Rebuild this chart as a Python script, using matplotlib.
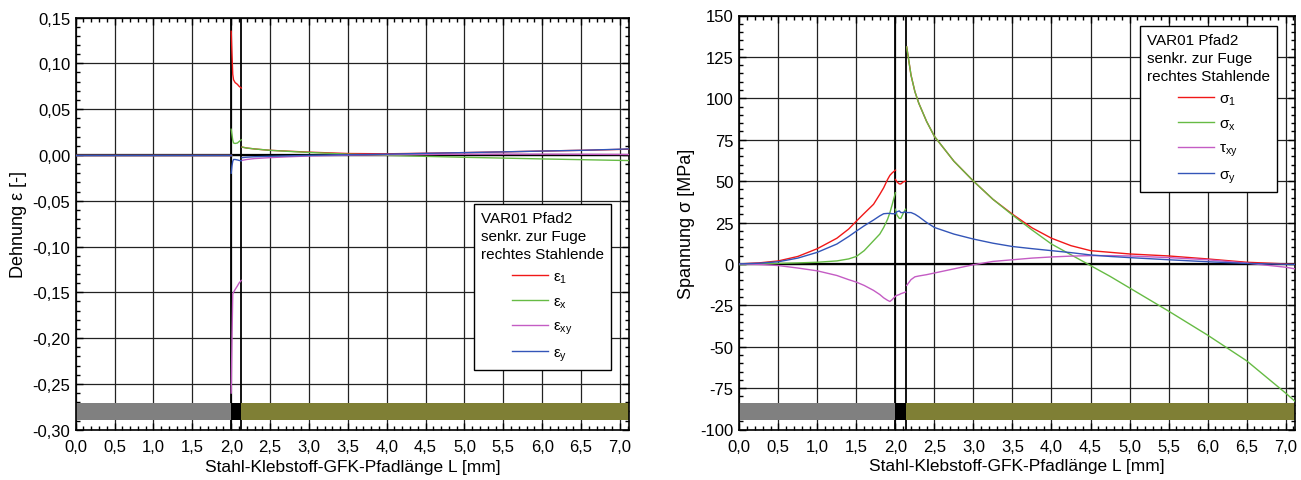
import numpy as np
import matplotlib
matplotlib.use("Agg")
import matplotlib.pyplot as plt
from matplotlib.ticker import MultipleLocator, FuncFormatter
from matplotlib.legend_handler import HandlerLine2D
from matplotlib.lines import Line2D

plt.rcParams['font.family'] = ['Liberation Sans', 'DejaVu Sans']
plt.rcParams['mathtext.fontset'] = 'custom'
plt.rcParams['mathtext.rm'] = 'Liberation Sans'

# Schichtgrenzen Stahl / Klebstoff / GFK [mm]
INTERFACES = [2.0, 2.13]
X_END = 7.12

# ---- Dehnungen (links) ----
EPS_STEEL_X = [0.0, 1.0, 2.0]
EPS1_STEEL = [0.0, 0.0, 0.0]
EPSX_STEEL = [0.0, 0.0, 0.0]
EPSXY_STEEL = [0.0, 0.0, 0.0]
EPSY_STEEL = [0.0, 0.0, 0.0]

EPS_ADH_X = [2.0, 2.01, 2.02, 2.03, 2.05, 2.08, 2.10, 2.13]
EPS1_ADH = [0.135, 0.11, 0.088, 0.082, 0.079, 0.077, 0.075, 0.073]
EPSX_ADH = [0.028, 0.022, 0.016, 0.013, 0.0125, 0.013, 0.0145, 0.0165]
EPSXY_ADH = [-0.26, -0.20, -0.152, -0.150, -0.147, -0.143, -0.140, -0.137]
EPSY_ADH = [-0.02, -0.012, -0.007, -0.005, -0.005, -0.0055, -0.006, -0.0065]

EPS_GFK_X = [2.14, 2.2, 2.3, 2.5, 2.75, 3.0, 3.5, 4.0, 4.5, 5.0, 5.5, 6.0, 6.5, 7.0, 7.12]
EPS1_GFK = [0.0085, 0.0075, 0.0065, 0.005, 0.004, 0.003, 0.0015, 0.0012, 0.0018,
            0.0025, 0.0033, 0.0042, 0.005, 0.006, 0.0063]
EPSX_GFK = [0.0085, 0.0075, 0.0065, 0.005, 0.0038, 0.0027, 0.0008, -0.0005, -0.0016,
            -0.0026, -0.0035, -0.0044, -0.0052, -0.006, -0.0062]
EPSXY_GFK = [-0.006, -0.005, -0.004, -0.003, -0.002, -0.0012, -0.0003, 0.0002, 0.0005,
             0.0007, 0.0008, 0.0008, 0.0007, 0.0005, 0.0004]
EPSY_GFK = [-0.003, -0.0025, -0.002, -0.0015, -0.001, -0.0005, 0.0002, 0.0008, 0.0017,
            0.0025, 0.0033, 0.0042, 0.005, 0.0062, 0.0066]

# ---- Spannungen (rechts) [MPa] ----
SIG_STEEL_X = [0.0, 0.25, 0.5, 0.75, 1.0, 1.25, 1.4, 1.5, 1.6, 1.72, 1.8, 1.85, 1.9, 1.93, 1.96, 2.0]
SIG1_STEEL = [0.0, 0.6, 1.8, 4.5, 9.2, 15.5, 21, 25.8, 30.5, 36, 42, 46, 51, 53.5, 55, 56.6]
SIGX_STEEL = [-0.5, 0.0, 0.3, 0.6, 1.0, 1.8, 3.0, 4.5, 8.0, 14, 18, 22, 27, 31, 36, 43]
TAUXY_STEEL = [0.0, -0.3, -1.0, -2.5, -4.2, -7.0, -9.5, -11, -13, -16, -18.5, -20.5, -22, -22.7, -21.5, -19.5]
SIGY_STEEL = [0.0, 0.4, 1.3, 3.5, 7.0, 12, 16.5, 19.8, 23, 26.5, 29, 30.3, 30.5, 30.5, 30.3, 30.3]

SIG_ADH_X = [2.0, 2.02, 2.05, 2.07, 2.1, 2.13]
SIG1_ADH = [51, 49.5, 48.3, 48.3, 49.5, 50]
SIGX_ADH = [33, 29.5, 27.5, 27.5, 30.5, 33]
TAUXY_ADH = [-19.5, -19, -18.5, -18, -17.5, -17]
SIGY_ADH = [30.5, 31.5, 32, 31, 31, 31.5]

SIG_GFK_X = [2.145, 2.2, 2.25, 2.3, 2.4, 2.5, 2.75, 3.0, 3.25, 3.5, 3.75, 4.0, 4.25,
             4.5, 4.75, 5.0, 5.5, 6.0, 6.5, 7.0, 7.12]
SIG1_GFK = [131, 114, 104, 97, 86, 77, 62, 50, 39, 30, 21.8, 15.5, 11, 8, 7, 6,
            4.8, 3, 1, 0, -0.3]
SIGX_GFK = [131, 114, 104, 97, 86, 77, 62, 50, 39, 29.5, 20.5, 12, 5.5, -1, -7.5, -14.5,
            -28.5, -43, -58.5, -78, -83]
TAUXY_GFK = [-13, -9.5, -7.8, -7.3, -6.5, -5.5, -3, -0.5, 1.5, 2.5, 3.5, 4.2, 4.7,
             5, 5, 4.8, 3.8, 2.5, 0.5, -2, -3]
SIGY_GFK = [31, 31, 30, 28.5, 25, 22, 18, 15, 12.5, 10.5, 9.2, 8, 6.8, 5.4, 4.5,
            3.8, 2.5, 1.3, 0.3, -0.2, -0.3]

C_RED = '#f01818'
C_GREEN = '#66bb44'
C_PINK = '#c45cc4'
C_BLUE = '#3355b8'
LAYER_COLORS = ['#808080', '#000000', '#7f7f35']

LEG_TITLE = 'VAR01 Pfad2\nsenkr. zur Fuge\nrechtes Stahlende'


class ShiftedLine(HandlerLine2D):
    # Legendenlinie nach rechts versetzt, wie im Original
    def create_artists(self, legend, orig_handle, xdescent, ydescent,
                       width, height, fontsize, trans):
        shift = width * 0.46
        return super().create_artists(legend, orig_handle, xdescent - shift, ydescent,
                                      width - shift, height, fontsize, trans)


def comma_fmt(decimals):
    return FuncFormatter(lambda v, p: f"{v:.{decimals}f}".replace('.', ','))


def style_axes(ax, ylim, ymajor, yminor, ydec):
    ax.set_xlim(0, X_END)
    ax.set_ylim(*ylim)
    ax.xaxis.set_major_locator(MultipleLocator(0.5))
    ax.xaxis.set_minor_locator(MultipleLocator(0.1))
    ax.yaxis.set_major_locator(MultipleLocator(ymajor))
    ax.yaxis.set_minor_locator(MultipleLocator(yminor))
    ax.xaxis.set_major_formatter(comma_fmt(1))
    ax.yaxis.set_major_formatter(comma_fmt(ydec))
    ax.tick_params(which='both', direction='in', top=True, right=True,
                   labelsize=12, width=1)
    ax.tick_params(axis='x', pad=7)
    ax.tick_params(axis='y', pad=4)
    ax.tick_params(which='major', length=5)
    ax.tick_params(which='minor', length=3)
    ax.set_axisbelow(True)
    ax.grid(True, which='major', color='#222222', lw=0.9)
    for s in ax.spines.values():
        s.set_linewidth(1.2)
    ax.set_xlabel('Stahl-Klebstoff-GFK-Pfadlänge L [mm]', fontsize=12.5, labelpad=3)


def draw_layers(ax, y0, h):
    edges = [0.0] + INTERFACES + [X_END]
    spans = [(edges[i], edges[i + 1] - edges[i]) for i in range(len(edges) - 1)]
    ax.broken_barh(spans, (y0, h), facecolors=LAYER_COLORS, zorder=2)
    for xi in INTERFACES:
        ax.axvline(xi, color='black', lw=1.3, zorder=1.5)
    ax.axhline(0, color='black', lw=1.6, zorder=1.5)


def plot_series(ax, segments, color, label):
    for i, (xs, ys) in enumerate(segments):
        ax.plot(xs, ys, color=color, lw=1.0, zorder=3,
                label=label if i == 0 else None)


fig = plt.figure(figsize=(13.01, 4.81), dpi=100)
ax1 = fig.add_axes([75.7 / 1301, 1 - 430.7 / 481, (629.3 - 75.7) / 1301, (430.7 - 18.5) / 481])
ax2 = fig.add_axes([739.3 / 1301, 1 - 430.5 / 481, (1295 - 739.3) / 1301, (430.5 - 16.5) / 481])

# links: Dehnungen
style_axes(ax1, (-0.30, 0.15), 0.05, 0.01, 2)
draw_layers(ax1, -0.289, 0.018)
plot_series(ax1, [(EPS_STEEL_X, EPS1_STEEL), (EPS_ADH_X, EPS1_ADH), (EPS_GFK_X, EPS1_GFK)],
            C_RED, r'$\mathregular{ε_{1}}$')
plot_series(ax1, [(EPS_STEEL_X, EPSX_STEEL), (EPS_ADH_X, EPSX_ADH), (EPS_GFK_X, EPSX_GFK)],
            C_GREEN, r'$\mathregular{ε_{x}}$')
plot_series(ax1, [(EPS_STEEL_X, EPSXY_STEEL), (EPS_ADH_X, EPSXY_ADH), (EPS_GFK_X, EPSXY_GFK)],
            C_PINK, r'$\mathregular{ε_{xy}}$')
plot_series(ax1, [(EPS_STEEL_X, EPSY_STEEL), (EPS_ADH_X, EPSY_ADH), (EPS_GFK_X, EPSY_GFK)],
            C_BLUE, r'$\mathregular{ε_{y}}$')
ax1.set_ylabel('Dehnung ε [-]', fontsize=13, labelpad=4)

# rechts: Spannungen
style_axes(ax2, (-100, 150), 25, 5, 0)
draw_layers(ax2, -94, 10)
plot_series(ax2, [(SIG_STEEL_X, SIG1_STEEL), (SIG_ADH_X, SIG1_ADH), (SIG_GFK_X, SIG1_GFK)],
            C_RED, r'$\mathregular{σ_{1}}$')
plot_series(ax2, [(SIG_STEEL_X, SIGX_STEEL), (SIG_ADH_X, SIGX_ADH), (SIG_GFK_X, SIGX_GFK)],
            C_GREEN, r'$\mathregular{σ_{x}}$')
plot_series(ax2, [(SIG_STEEL_X, TAUXY_STEEL), (SIG_ADH_X, TAUXY_ADH), (SIG_GFK_X, TAUXY_GFK)],
            C_PINK, r'$\mathregular{τ_{xy}}$')
plot_series(ax2, [(SIG_STEEL_X, SIGY_STEEL), (SIG_ADH_X, SIGY_ADH), (SIG_GFK_X, SIGY_GFK)],
            C_BLUE, r'$\mathregular{σ_{y}}$')
ax2.set_ylabel('Spannung σ [MPa]', fontsize=13, labelpad=4)

for ax, anchor in [(ax1, (474 / 1301, 1 - 205 / 481)), (ax2, (1140 / 1301, 1 - 27 / 481))]:
    leg = ax.legend(title=LEG_TITLE, loc='upper left', bbox_to_anchor=anchor,
                    bbox_transform=fig.transFigure, borderaxespad=0,
                    fontsize=11, title_fontsize=11,
                    alignment='left', fancybox=False, framealpha=1, edgecolor='black',
                    handlelength=4.4, handletextpad=0.3, labelspacing=0.6,
                    borderpad=0.45, handler_map={Line2D: ShiftedLine()})
    leg.get_title().set_linespacing(1.35)
    leg.get_frame().set_linewidth(1.0)
    leg.set_zorder(5)

fig.savefig('out.png', dpi=100)
